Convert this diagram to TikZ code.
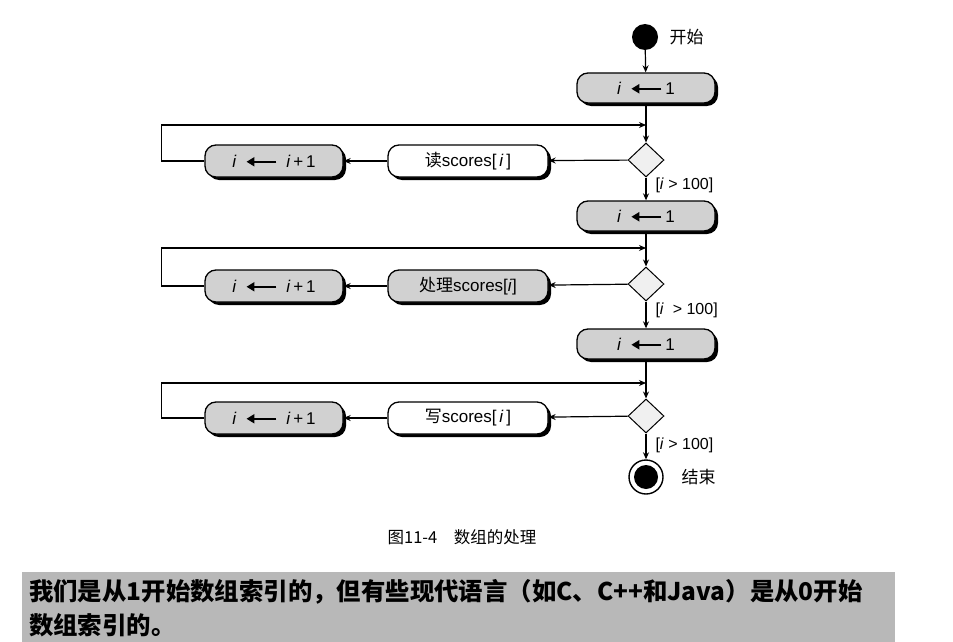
\documentclass[tikz,border=0pt]{standalone}
\usepackage{fontspec}
\setmainfont{Liberation Sans}
\newfontfamily\cjk{Noto Sans CJK SC}
\usetikzlibrary{shapes.geometric,shadows,arrows.meta}
\newcommand\larr{\tikz[baseline=-0.6ex]\draw[line width=2pt,-{Triangle[length=8pt,width=9pt]}] (30pt,0pt)--(0pt,0pt);}
\tikzset{
  act/.style={rectangle, rounded corners=11pt, draw, line width=1.3pt, fill=black!18,
    minimum height=30pt, minimum width=138pt, inner sep=2pt,
    font=\fontsize{17}{17}\selectfont,
    drop shadow={shadow xshift=3pt, shadow yshift=-3pt, fill=black, opacity=1}},
  wact/.style={act, fill=white, minimum width=160pt, minimum height=32pt},
  gact/.style={act, minimum width=160pt, minimum height=32pt},
  iact/.style={act, minimum height=32pt},
  dec/.style={diamond, draw, line width=1pt, fill=black!6, minimum width=36pt,
    minimum height=34pt, inner sep=0pt},
  conn/.style={draw, line width=1.2pt, -{Stealth[length=7pt,width=6pt]}},
  guard/.style={anchor=west, font=\fontsize{16}{16}\selectfont},
  cjklbl/.style={anchor=west, font=\cjk\fontsize{17}{17}\selectfont},
  notetext/.style={anchor=west, inner sep=0pt, font=\cjk\bfseries\fontsize{24.4}{24.4}\selectfont},
}
\newcommand\setone{\textit{i}\hspace{9pt}\larr\hspace{3pt}1}
\newcommand\incone{\textit{i}\hspace{9pt}\larr\hspace{9pt}\textit{i}\,+\,1}
\begin{document}
\begin{tikzpicture}[x=1pt,y=-1pt]
\useasboundingbox (0,0) rectangle (953,642);
% start
\node[circle, fill=black, minimum size=26pt, inner sep=0pt] (start) at (645,37) {};
\node[cjklbl] (startlbl) at (666,37) {开始};
% block 1
\node[act] (init1) at (646,88) {\setone};
\coordinate (j1) at (646,125);
\node[dec] (d1) at (646,160) {};
\node[wact] (read) at (468,161) {{\cjk 读}scores[\,\textit{i}\,]};
\node[iact] (inc1) at (274,161) {\incone};
\node[guard] (g1) at (652,185) {[\textit{i} > 100]};
\draw[conn] (start) -- (init1);
\draw[conn] (init1) -- (d1);
\draw[conn] (d1) -- (read);
\draw[conn] (read) -- (inc1);
\draw[conn] (inc1.west) -- ++(-43,0) |- (j1);
% block 2
\node[act] (init2) at (646,216) {\setone};
\coordinate (j2) at (646,248);
\node[dec] (d2) at (646,284) {};
\node[gact] (proc) at (468,286) {{\cjk 处理}scores[\textit{i}]};
\node[iact] (inc2) at (274,286) {\incone};
\node[guard] (g2) at (652,310) {[\textit{i} \ > 100]};
\draw[conn] (d1) -- (init2);
\draw[conn] (init2) -- (d2);
\draw[conn] (d2) -- (proc);
\draw[conn] (proc) -- (inc2);
\draw[conn] (inc2.west) -- ++(-43,0) |- (j2);
% block 3
\node[act] (init3) at (646,344) {\setone};
\coordinate (j3) at (646,383);
\node[dec] (d3) at (646,416) {};
\node[wact] (write) at (468,418) {{\cjk 写}scores[\,\textit{i}\,]};
\node[iact] (inc3) at (274,418) {\incone};
\node[guard] (g3) at (652,445) {[\textit{i} > 100]};
\draw[conn] (d2) -- (init3);
\draw[conn] (init3) -- (d3);
\draw[conn] (d3) -- (write);
\draw[conn] (write) -- (inc3);
\draw[conn] (inc3.west) -- ++(-43,0) |- (j3);
% end
\node[circle, draw, line width=1.4pt, fill=white, minimum size=34pt, inner sep=0pt] (end) at (646,477) {};
\node[circle, fill=black, minimum size=24pt, inner sep=0pt] (endcore) at (end) {};
\draw[conn] (d3) -- (end);
\node[cjklbl] (endlbl) at (678,477) {结束};
% caption
\node[font=\cjk\fontsize{16.5}{16.5}\selectfont] (cap) at (462,537) {图11-4\quad 数组的处理};
% note band
\fill[black!28] (22,572) rectangle (895,642);
\node[notetext] (note1) at (29,592)
  {我们是从1开始数组索引的，但有些现代语言（如C、C++和Java）是从0开始};
\node[notetext] (note2) at (29,625) {数组索引的。};
\end{tikzpicture}
\end{document}
